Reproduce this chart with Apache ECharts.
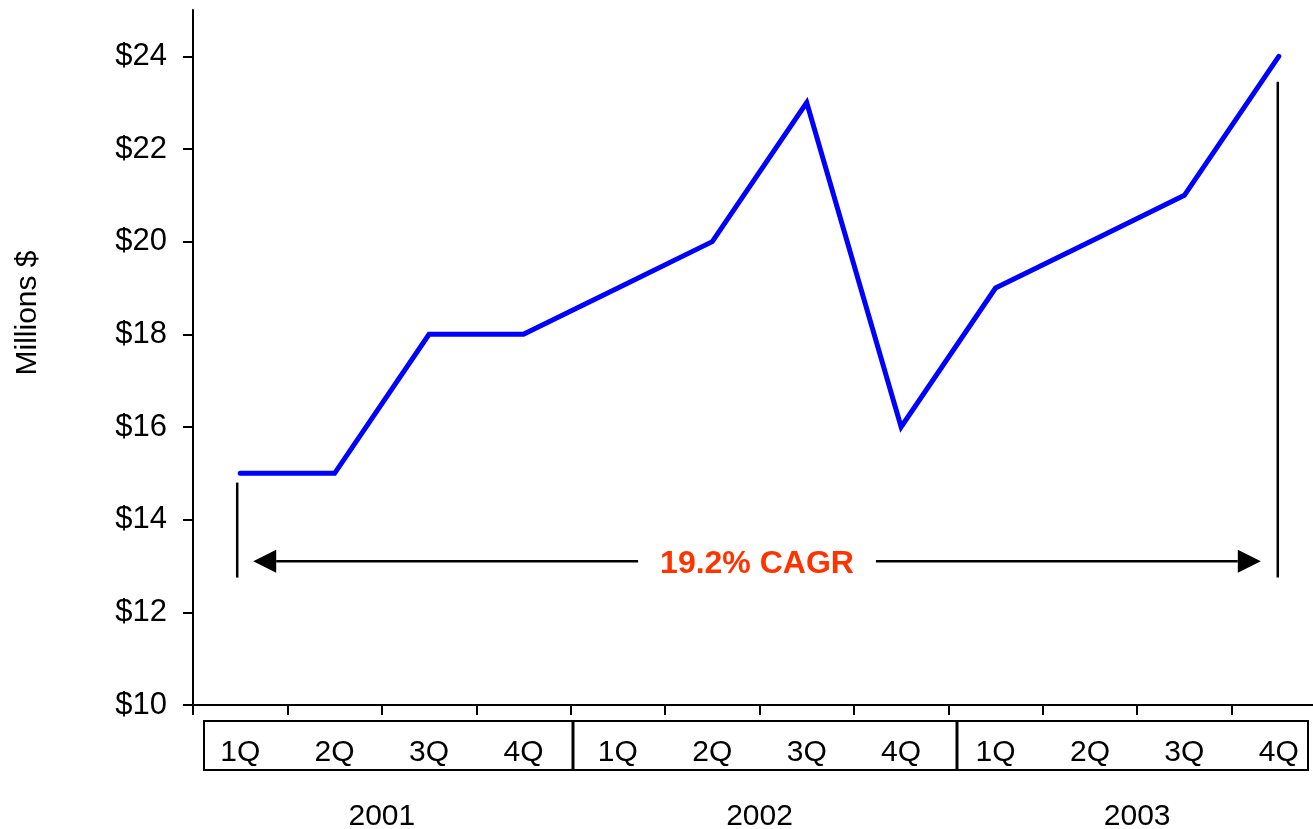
<!DOCTYPE html>
<html>
<head>
<meta charset="utf-8">
<title>Quarterly Revenue 2001-2003</title>
<script src="https://cdn.jsdelivr.net/npm/echarts@6/dist/echarts.min.js"></script>
<style>
  html, body { margin: 0; padding: 0; background: #fff; }
  #chart { width: 1313px; height: 829px; }
</style>
</head>
<body>
<div id="chart"></div>
<script>
// Quarterly revenue, millions of dollars
const quarters = ['1Q', '2Q', '3Q', '4Q', '1Q', '2Q', '3Q', '4Q', '1Q', '2Q', '3Q', '4Q'];
const years = ['2001', '2002', '2003'];
const revenue = [15, 15, 18, 18, 19, 20, 23, 16, 19, 20, 21, 24];
const yTicks = [10, 12, 14, 16, 18, 20, 22, 24];
const cagrText = '19.2% CAGR';

const FONT = "'Liberation Sans', Arial, sans-serif";
const chart = echarts.init(document.getElementById('chart'), null, { renderer: 'canvas' });

chart.setOption({
  animation: false,
  backgroundColor: '#ffffff',
  // plot area runs a little past the right edge of the canvas
  grid: { left: 193, width: 1133, top: 10, bottom: 124, containLabel: false, outerBoundsMode: 'none' },
  xAxis: [
    {
      type: 'category',
      data: quarters,
      boundaryGap: true,
      axisLine: { lineStyle: { color: '#000', width: 2 } },
      axisTick: { show: true, length: 10, lineStyle: { color: '#000', width: 2 } },
      axisLabel: {
        interval: 0, margin: 48, verticalAlign: 'middle',
        color: '#000', fontFamily: FONT, fontSize: 30
      },
      splitLine: { show: false }
    },
    {
      type: 'category',
      data: years,
      position: 'bottom',
      boundaryGap: true,
      axisLine: { show: false },
      axisTick: { show: false },
      axisLabel: {
        interval: 0, margin: 112, verticalAlign: 'middle',
        color: '#000', fontFamily: FONT, fontSize: 30
      },
      splitLine: { show: false }
    }
  ],
  yAxis: {
    type: 'value',
    min: 10, max: 25, interval: 2,
    axisLine: { show: true, lineStyle: { color: '#000', width: 2 } },
    axisTick: { show: true, length: 10, customValues: yTicks, lineStyle: { color: '#000', width: 2 } },
    axisLabel: {
      customValues: yTicks, margin: 26,
      formatter: v => '$' + v,
      color: '#000', fontFamily: FONT, fontSize: 31
    },
    splitLine: { show: false }
  },
  series: [{
    type: 'line',
    data: revenue,
    symbol: 'none',
    lineStyle: { color: '#0000FF', width: 5, cap: 'round', join: 'miter' },
    z: 3
  }]
});

// Annotations: category box, axis title and the CAGR span arrow
function drawAnnotations() {
  const px = (i, v) => chart.convertToPixel({ seriesIndex: 0 }, [i, v]);
  const last = revenue.length - 1;
  const startTop = px(0, revenue[0] - 0.2);
  const endTop = px(last, revenue[last] - 0.55);
  const spanBottom = px(0, 12.75);
  const arrowY = px(0, 13.1)[1];
  const leftX = startTop[0] - 3;
  const rightX = endTop[0] - 1;
  const tipL = leftX + 16, tipR = rightX - 17;
  const head = 23;
  const midX = (tipL + tipR) / 2;
  const black = { stroke: '#000', lineWidth: 2.5 };

  chart.setOption({
    graphic: [
      // quarter box with year dividers
      { type: 'rect', shape: { x: 204, y: 721, width: 1104, height: 49 },
        style: { fill: 'none', stroke: '#000', lineWidth: 2 } },
      { type: 'line', shape: { x1: 573, y1: 721, x2: 573, y2: 770 }, style: { stroke: '#000', lineWidth: 3 } },
      { type: 'line', shape: { x1: 957, y1: 721, x2: 957, y2: 770 }, style: { stroke: '#000', lineWidth: 3 } },
      // axis title
      { type: 'text', x: 28, y: 313, rotation: Math.PI / 2,
        style: { text: 'Millions $', font: '30px ' + FONT, fill: '#000', align: 'center', verticalAlign: 'middle' } },
      // span verticals
      { type: 'line', shape: { x1: leftX, y1: startTop[1], x2: leftX, y2: spanBottom[1] }, style: black },
      { type: 'line', shape: { x1: rightX, y1: endTop[1], x2: rightX, y2: spanBottom[1] }, style: black },
      // arrow shaft
      { type: 'line', shape: { x1: tipL + head, y1: arrowY, x2: tipR - head, y2: arrowY }, style: black },
      // arrow heads
      { type: 'polygon', shape: { points: [[tipL, arrowY], [tipL + head, arrowY - 11.5], [tipL + head, arrowY + 11.5]] },
        style: { fill: '#000' } },
      { type: 'polygon', shape: { points: [[tipR, arrowY], [tipR - head, arrowY - 11.5], [tipR - head, arrowY + 11.5]] },
        style: { fill: '#000' } },
      // CAGR label over the shaft
      { type: 'text', x: midX, y: arrowY + 3, z: 10,
        style: { text: cagrText, font: 'bold 32px ' + FONT, fill: '#FF3300',
                 align: 'center', verticalAlign: 'middle',
                 backgroundColor: '#fff', padding: [4, 22] } }
    ]
  });
}
drawAnnotations();
</script>
</body>
</html>
